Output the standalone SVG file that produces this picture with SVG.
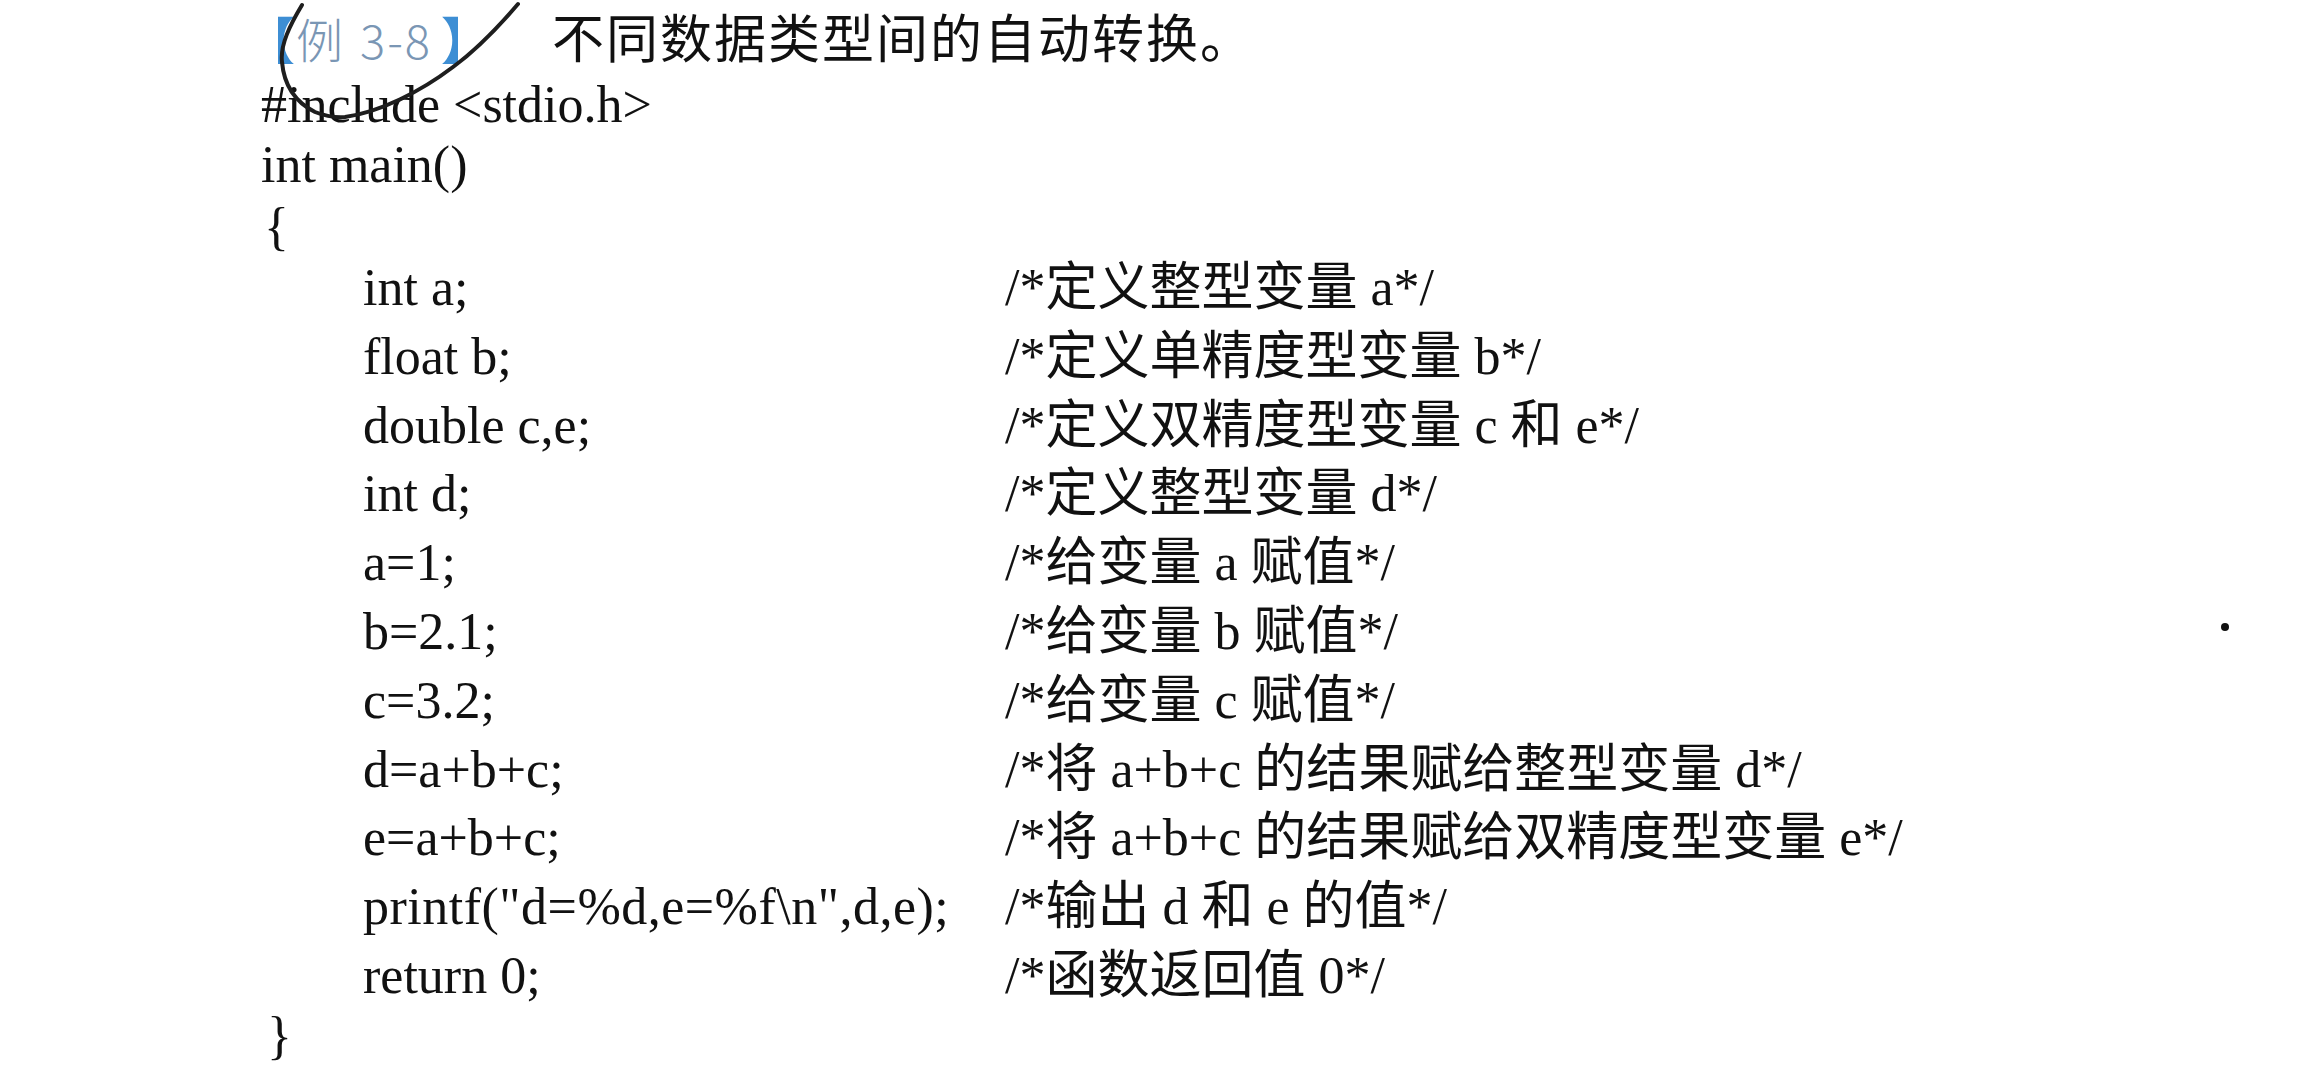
<svg xmlns="http://www.w3.org/2000/svg" width="2304" height="1073" viewBox="0 0 2304 1073">
<style>
.code{font-family:"Liberation Serif","Noto Sans CJK SC",serif;font-size:52px;fill:#111}
.cm{font-family:"Liberation Serif","Noto Sans CJK SC",serif;font-size:52px;fill:#111}
.ttl{font-family:"Noto Sans CJK SC",sans-serif;font-size:52px;letter-spacing:2px;fill:#111}
.br{font-family:"Noto Sans CJK SC",sans-serif;font-size:50px;fill:#3d8ed4;font-weight:bold}
.ex{font-family:"Noto Sans CJK SC",sans-serif;font-size:47px;fill:#7a96b4;font-weight:300}
</style>
<rect width="2304" height="1073" fill="#ffffff"/>
<g id="title">
<text class="br" x="245" y="59">【</text>
<text class="ex" x="296" y="58">例</text>
<text class="ex" x="360" y="59" letter-spacing="2">3-8</text>
<text class="br" x="441" y="59">】</text>
<text class="ttl" x="552" y="58">不同数据类型间的自动转换。</text>
</g>
<g id="header">
<text class="code" x="261" y="122">#include &lt;stdio.h&gt;</text>
<text class="code" x="261" y="182">int main()</text>
<text class="code" x="264" y="244">{</text>
</g>
<g id="body">
<text class="code" x="363" y="305">int a;</text>
<text class="code" x="363" y="374">float b;</text>
<text class="code" x="363" y="443">double c,e;</text>
<text class="code" x="363" y="511">int d;</text>
<text class="code" x="363" y="580">a=1;</text>
<text class="code" x="363" y="649">b=2.1;</text>
<text class="code" x="363" y="718">c=3.2;</text>
<text class="code" x="363" y="787">d=a+b+c;</text>
<text class="code" x="363" y="855">e=a+b+c;</text>
<text class="code" x="363" y="924" letter-spacing="0.5">printf("d=%d,e=%f\n",d,e);</text>
<text class="code" x="363" y="993">return 0;</text>
</g>
<g id="comments">
<text class="cm" x="1005" y="305">/*定义整型变量 a*/</text>
<text class="cm" x="1005" y="374">/*定义单精度型变量 b*/</text>
<text class="cm" x="1005" y="443">/*定义双精度型变量 c 和 e*/</text>
<text class="cm" x="1005" y="511">/*定义整型变量 d*/</text>
<text class="cm" x="1005" y="580">/*给变量 a 赋值*/</text>
<text class="cm" x="1005" y="649">/*给变量 b 赋值*/</text>
<text class="cm" x="1005" y="718">/*给变量 c 赋值*/</text>
<text class="cm" x="1005" y="787">/*将 a+b+c 的结果赋给整型变量 d*/</text>
<text class="cm" x="1005" y="855">/*将 a+b+c 的结果赋给双精度型变量 e*/</text>
<text class="cm" x="1005" y="924">/*输出 d 和 e 的值*/</text>
<text class="cm" x="1005" y="993">/*函数返回值 0*/</text>
</g>
<g id="footer">
<text class="code" x="267" y="1053">}</text>
</g>
<g id="marks">
<path d="M302,5 C290,25 280,45 282,62 C284,85 295,102 315,112 Q330,118 345,117 C380,112 420,92 453,67 C480,47 500,25 518,4" fill="none" stroke="#1e1e1e" stroke-width="4" stroke-linecap="round"/>
<circle cx="2225" cy="627" r="4" fill="#111"/>
</g>
</svg>
